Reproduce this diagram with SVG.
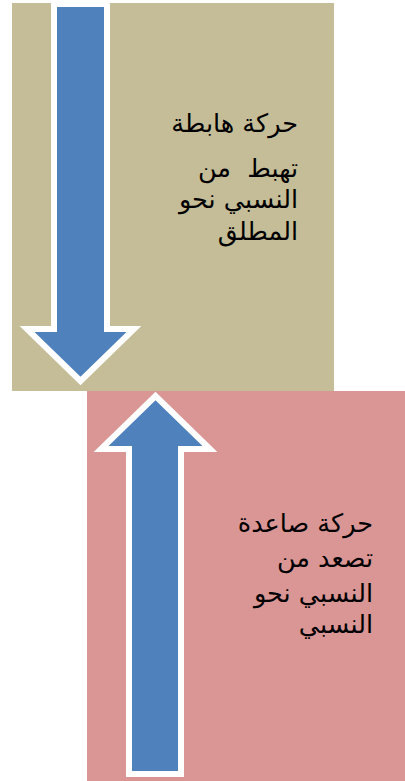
<svg xmlns="http://www.w3.org/2000/svg" width="405" height="781" viewBox="0 0 405 781">
<style>
.arrow{fill:#4F81BD;stroke:#FFFFFF;stroke-width:6;stroke-linejoin:miter}
.lbl{font-family:"DejaVu Sans","Liberation Sans",sans-serif;font-size:25.5px;fill:#000;text-anchor:end}
</style>
<rect width="405" height="781" fill="#FFFFFF"/>
<g id="top-box">
<rect x="12" y="3" width="322" height="388" fill="#C4BD97"/>
</g>
<g id="bottom-box">
<rect x="87" y="391" width="318" height="390" fill="#D99694"/>
</g>
<g id="connectors">
<path class="arrow" d="M54,4 H107 V329 H134 L80.5,381 L27,329 H54 Z"/>
<path class="arrow" d="M129,774 V449 H101 L155.5,396 L210,449 H181 V774 Z"/>
</g>
<g id="top-label">
<text class="lbl" x="298" y="132">حركة هابطة</text>
<text class="lbl" x="298" y="177" xml:space="preserve">تهبط  من</text>
<text class="lbl" x="298" y="208">النسبي نحو</text>
<text class="lbl" x="298" y="240">المطلق</text>
</g>
<g id="bottom-label">
<text class="lbl" x="373" y="532">حركة صاعدة</text>
<text class="lbl" x="373" y="567">تصعد من</text>
<text class="lbl" x="373" y="602">النسبي نحو</text>
<text class="lbl" x="373" y="633">النسبي</text>
</g>
</svg>
